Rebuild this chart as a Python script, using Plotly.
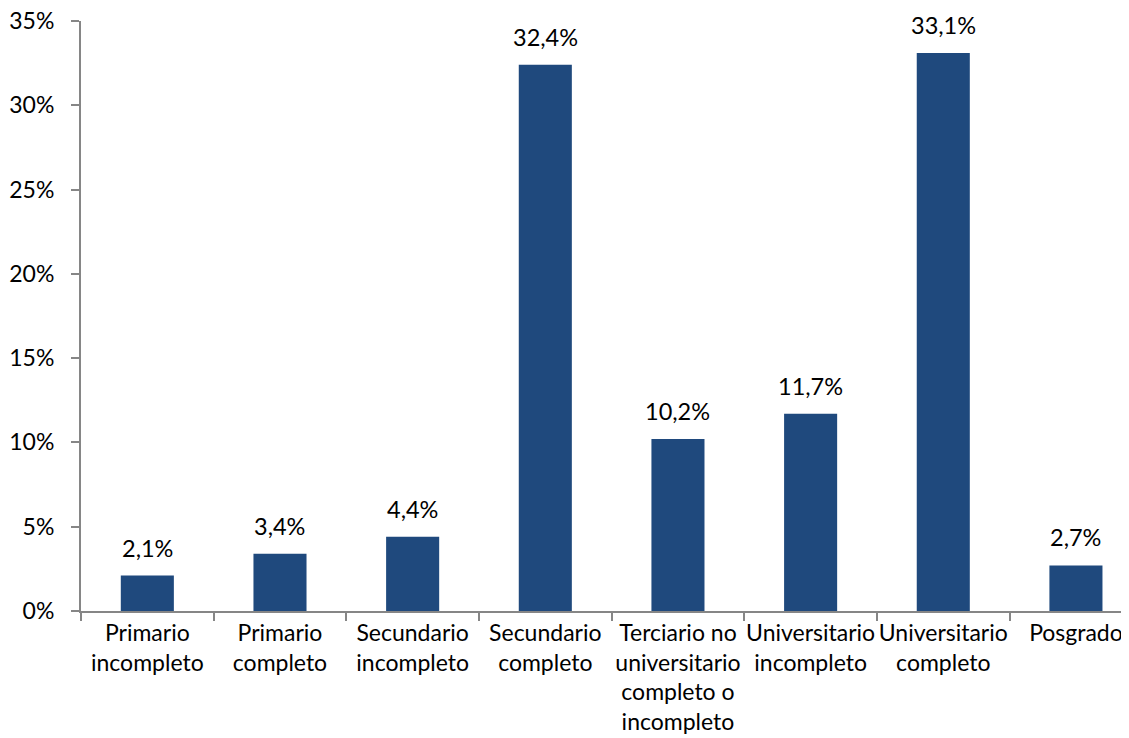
import plotly.graph_objects as go

categorias = [
    "Primario<br>incompleto",
    "Primario<br>completo",
    "Secundario<br>incompleto",
    "Secundario<br>completo",
    "Terciario no<br>universitario<br>completo o<br>incompleto",
    "Universitario<br>incompleto",
    "Universitario<br>completo",
    "Posgrado",
]
porcentajes = [2.1, 3.4, 4.4, 32.4, 10.2, 11.7, 33.1, 2.7]
etiquetas = [f"{v:.1f}%".replace(".", ",") for v in porcentajes]

fuente = "Lato, Open Sans, sans-serif"
gris = "#868686"

fig = go.Figure()
fig.add_bar(
    x=categorias,
    y=porcentajes,
    width=0.4,
    marker=dict(color="#1F497D", line=dict(width=0)),
)

# etiquetas de datos sobre las barras
for cat, val, txt in zip(categorias, porcentajes, etiquetas):
    fig.add_annotation(
        x=cat, y=val, text=txt, showarrow=False,
        yanchor="bottom", yshift=12,
        font=dict(size=23.5, color="#000000", family=fuente),
    )

# la pagina tiene 8px de margen en body: se compensa en los margenes
fig.update_layout(
    width=1129,
    height=738,
    margin=dict(l=73, r=8, t=13, b=135),
    plot_bgcolor="white",
    paper_bgcolor="white",
    showlegend=False,
    font=dict(family=fuente, size=23, color="#000000"),
)
fig.update_xaxes(
    type="category",
    range=[-0.5, 7.4],
    tickangle=0,
    showline=True,
    linecolor=gris,
    linewidth=2,
    ticks="outside",
    tickson="boundaries",
    ticklen=8,
    tickwidth=2,
    tickcolor=gris,
    showgrid=False,
    zeroline=False,
    automargin=False,
    ticklabeloverflow="allow",
    tickfont=dict(size=23),
)
fig.update_yaxes(
    range=[0, 35],
    dtick=5,
    ticksuffix="%",
    showline=True,
    linecolor=gris,
    linewidth=2,
    ticks="outside",
    ticklen=8,
    tickcolor=gris,
    tickwidth=2,
    ticklabelstandoff=12,
    ticklabeloverflow="allow",
    showgrid=False,
    zeroline=False,
    automargin=False,
    tickfont=dict(size=23),
)

fig.write_html("out.html")
